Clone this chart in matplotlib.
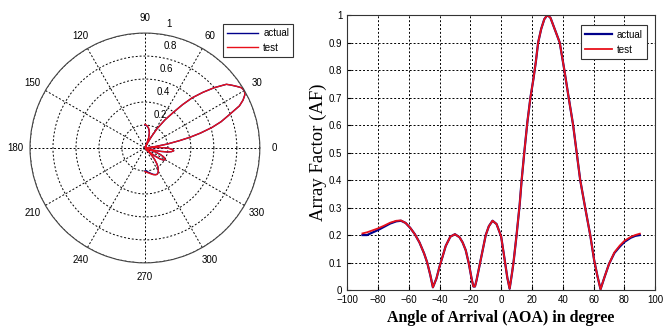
import numpy as np
import matplotlib
matplotlib.use("Agg")
import matplotlib.pyplot as plt
from matplotlib.ticker import FuncFormatter

# angle of arrival (deg) and array factor
angles = [-90, -87, -84, -80, -76, -72, -68, -65, -62, -59, -56, -53, -50, -48,
          -46, -44.3, -42, -40, -38, -36, -33, -30, -27, -25, -23, -21, -19, -18,
          -17, -16, -14, -12, -10, -8, -5.6, -3, -1, 0, 2, 4, 5.5, 7, 8, 10, 12,
          13.3, 15, 17, 19, 21, 22.5, 24, 26, 28, 30, 32, 34, 36, 38, 41, 43.8,
          46.7, 49, 51.3, 54.5, 57.8, 60.3, 62.5, 64.5, 67, 70, 73.5, 77, 80, 84,
          87, 90]
test_af = [0.206, 0.210, 0.216, 0.224, 0.234, 0.245, 0.252, 0.253, 0.244, 0.226,
           0.203, 0.173, 0.133, 0.100, 0.055, 0.010, 0.042, 0.085, 0.122, 0.160,
           0.194, 0.203, 0.192, 0.173, 0.145, 0.097, 0.036, 0.013, 0.013, 0.035,
           0.090, 0.145, 0.200, 0.232, 0.252, 0.240, 0.210, 0.194, 0.120, 0.045,
           0.005, 0.060, 0.100, 0.200, 0.310, 0.400, 0.500, 0.610, 0.700, 0.770,
           0.830, 0.900, 0.950, 0.985, 1.000, 0.990, 0.960, 0.930, 0.900, 0.800,
           0.700, 0.600, 0.500, 0.400, 0.300, 0.200, 0.110, 0.050, 0.003, 0.046,
           0.095, 0.137, 0.162, 0.179, 0.193, 0.200, 0.205]
actual_af = [0.200, 0.200, 0.208, 0.218, 0.230, 0.242, 0.250, 0.252, 0.244, 0.226,
             0.203, 0.173, 0.133, 0.100, 0.055, 0.010, 0.042, 0.085, 0.122, 0.160,
             0.194, 0.203, 0.192, 0.173, 0.145, 0.097, 0.036, 0.013, 0.013, 0.035,
             0.090, 0.145, 0.200, 0.232, 0.252, 0.240, 0.210, 0.194, 0.120, 0.045,
             0.005, 0.060, 0.100, 0.200, 0.310, 0.400, 0.500, 0.610, 0.700, 0.770,
             0.830, 0.900, 0.950, 0.985, 1.000, 0.990, 0.960, 0.930, 0.900, 0.800,
             0.700, 0.600, 0.500, 0.400, 0.300, 0.200, 0.110, 0.050, 0.003, 0.046,
             0.095, 0.135, 0.158, 0.175, 0.190, 0.197, 0.200]
r_ticks = [0.2, 0.4, 0.6, 0.8, 1.0]
r_labels = ["0.2", "0.4", "0.6", "0.8", "1"]

blue = "#00008b"
red = "#e8101a"
sans = ["Liberation Sans", "DejaVu Sans"]
serif = ["Liberation Serif", "DejaVu Serif"]

fig = plt.figure(figsize=(6.7, 3.27), dpi=100)

# polar pattern
axp = fig.add_axes([0.0448, 0.19, 0.343, 0.715], projection="polar")
th = np.deg2rad(angles)
axp.plot(th, actual_af, color=blue, lw=1.0, label="actual")
axp.plot(th, test_af, color=red, lw=1.0, label="test")
axp.set_ylim(0, 1)
axp.set_thetagrids(range(0, 360, 30), [str(a) for a in range(0, 360, 30)],
                   fontsize=7, family=sans)
axp.tick_params(axis="x", pad=0)
axp.set_rgrids(r_ticks, [""] * len(r_ticks))
# radial labels like matlab polar(): left/bottom aligned next to the 82 deg spoke
for r, lab in zip(r_ticks, r_labels):
    axp.annotate(lab, (np.deg2rad(82), r), xytext=(4, 4),
                 textcoords="offset points", ha="left", va="bottom",
                 fontsize=7, family=sans, annotation_clip=False)
axp.grid(True, color="black", lw=0.7, ls=(0, (2, 2)))
axp.spines["polar"].set_color("#444444")
axp.spines["polar"].set_linewidth(0.8)
leg = axp.legend(loc="upper left", bbox_to_anchor=(0.82, 1.06),
                 prop={"family": sans, "size": 7}, fancybox=False,
                 framealpha=1, edgecolor="#333333", handlelength=3.2,
                 borderpad=0.4, labelspacing=0.5, handletextpad=0.5)
leg.get_frame().set_linewidth(0.8)

# cartesian pattern
ax = fig.add_axes([0.518, 0.113, 0.46, 0.841])
ax.plot(angles, actual_af, color=blue, lw=1.6, label="actual")
ax.plot(angles, test_af, color=red, lw=1.3, label="test")
ax.set_xlim(-100, 100)
ax.set_ylim(0, 1)
ax.set_xticks(range(-100, 101, 20))
ax.set_yticks(np.arange(0, 1.01, 0.1))
ax.yaxis.set_major_formatter(FuncFormatter(lambda v, p: f"{v:g}"))
ax.tick_params(labelsize=7, direction="in", length=3)
for lab in ax.get_xticklabels() + ax.get_yticklabels():
    lab.set_family(sans)
ax.grid(True, color="black", lw=0.7, ls=(0, (2, 2)))
for s in ax.spines.values():
    s.set_color("#333333")
    s.set_linewidth(0.8)
ax.set_xlabel("Angle of Arrival (AOA) in degree", family=serif, fontweight="bold",
              fontsize=11.5, labelpad=3.5)
ax.set_ylabel("Array Factor (AF)", family=serif, fontsize=13.5, labelpad=1)
leg2 = ax.legend(loc="upper right", prop={"family": sans, "size": 7},
                 fancybox=False, framealpha=1, edgecolor="#333333",
                 handlelength=2.8, borderpad=0.45, labelspacing=0.5,
                 handletextpad=0.5, bbox_to_anchor=(0.99, 0.98))
leg2.get_frame().set_linewidth(0.8)

fig.savefig("out.png", dpi=100)
